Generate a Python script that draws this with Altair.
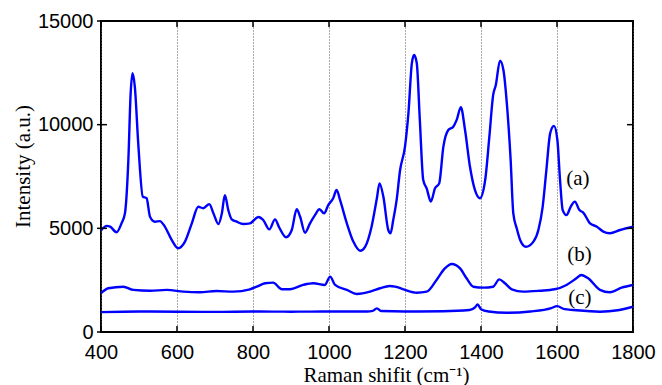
import altair as alt
import pandas as pd

# ---- data ----
a_x = [400, 415, 424, 441, 454, 463, 472, 478, 483, 489,
       498, 510, 520, 529, 542, 555, 568, 586, 603, 621,
       639, 656, 669, 685, 696, 709, 718, 726, 735, 744,
       757, 774, 792, 814, 827, 843, 858, 869, 887, 902,
       915, 924, 937, 950, 963, 975, 987, 998, 1011, 1020,
       1029, 1047, 1064, 1082, 1095, 1112, 1126, 1133, 1143, 1156,
       1162, 1169, 1178, 1187, 1200, 1209, 1218, 1224, 1231, 1239,
       1248, 1257, 1268, 1279, 1290, 1301, 1314, 1327, 1336, 1347,
       1358, 1371, 1384, 1397, 1411, 1422, 1432, 1439, 1450, 1459,
       1468, 1478, 1485, 1494, 1503, 1518, 1538, 1551, 1562, 1572,
       1582, 1592, 1601, 1608, 1615, 1625, 1636, 1647, 1659, 1669,
       1687, 1705, 1722, 1739, 1766, 1800]
a_y = [4900, 5120, 5080, 4810, 5240, 5720, 8300, 11500, 12480, 11830,
       9100, 6530, 6450, 5560, 5320, 5350, 5080, 4440, 4040, 4360,
       5240, 6040, 5970, 6170, 5720, 5210, 5720, 6600, 5880, 5430,
       5320, 5210, 5240, 5550, 5400, 4950, 5430, 5040, 4570, 4920,
       5920, 5560, 4790, 5240, 5640, 5920, 5720, 6120, 6450, 6850,
       6370, 5240, 4360, 3920, 4110, 5080, 6450, 7170, 6530, 4920,
       4760, 5400, 6370, 7800, 8940, 10550, 12960, 13360, 12960, 10230,
       7330, 6930, 6290, 6930, 7170, 8940, 9740, 9900, 10230, 10840,
       9740, 7970, 6850, 6450, 7330, 9420, 11430, 11910, 13090, 12640,
       11030, 8300, 5720, 5000, 4440, 4110, 4360, 4920, 6000, 7800,
       9580, 9940, 9260, 7330, 5880, 5640, 6040, 6290, 5880, 5760,
       5240, 5080, 4840, 4760, 4920, 5080]

b_x = [400, 419, 459, 485, 529, 573, 617, 660, 704, 748,
       792, 810, 832, 853, 876, 897, 932, 959, 989, 1003,
       1016, 1047, 1073, 1108, 1134, 1160, 1174, 1196, 1231, 1257,
       1283, 1305, 1323, 1345, 1362, 1380, 1406, 1432, 1448, 1463,
       1481, 1511, 1555, 1594, 1625, 1651, 1664, 1682, 1713, 1739,
       1770, 1800]
b_y = [1870, 2110, 2185, 2030, 1990, 2030, 1945, 1915, 1975, 1945,
       2060, 2185, 2350, 2380, 2060, 2060, 2270, 2350, 2270, 2670,
       2270, 2030, 1835, 1945, 2110, 2220, 2185, 2060, 1895, 1945,
       2510, 3070, 3280, 3070, 2590, 2185, 2140, 2185, 2540, 2350,
       2060, 1945, 1990, 2060, 2270, 2590, 2750, 2590, 2030, 1915,
       2140, 2270]

c_x = [400, 500, 600, 700, 800, 900, 1000, 1100, 1115, 1126,
       1137, 1200, 1300, 1370, 1385, 1391, 1400, 1420, 1468, 1530,
       1585, 1600, 1620, 1643, 1713, 1760, 1800]
c_y = [960, 990, 980, 970, 990, 980, 990, 990, 1020, 1140,
       1010, 990, 1000, 1060, 1200, 1330, 1100, 990, 930, 990,
       1150, 1250, 1100, 1060, 980, 1050, 1220]

x_ticks = [400, 600, 800, 1000, 1200, 1400, 1600, 1800]
y_ticks = [0, 5000, 10000, 15000]

label_text = ["(a)", "(b)", "(c)"]
label_x = [1655, 1659, 1660]
label_y = [7400, 3714, 1650]

# ---- tables ----
rows = []
for name, xs, ys in [("a", a_x, a_y), ("b", b_x, b_y), ("c", c_x, c_y)]:
    for xv, yv in zip(xs, ys):
        rows.append({"series": name, "shift": xv, "intensity": yv})
df = pd.DataFrame(rows)
xt = pd.DataFrame({"shift": x_ticks})
yt = pd.DataFrame({"intensity": y_ticks})
lab = pd.DataFrame({"t": label_text, "shift": label_x, "intensity": label_y})

W, H = 532, 311
xscale = alt.Scale(domain=[400, 1800], nice=False, zero=False)
yscale = alt.Scale(domain=[0, 15000], nice=False)

x_axis = alt.Axis(
    values=x_ticks, format="d", grid=True, gridDash=[1, 2], gridColor="#555555", gridWidth=1,
    ticks=False, domain=False,
    labelFont="Liberation Sans", labelFontSize=20, labelColor="black",
    labelBaseline="alphabetic", labelPadding=26, labelFlush=False,
    title="Raman shifit (cm⁻¹)", titleFont="Liberation Serif", titleFontSize=21,
    titleFontWeight="normal", titleColor="black", titleBaseline="alphabetic",
    titleX=285, titleY=49)
y_axis = alt.Axis(
    values=y_ticks, format="d", grid=False, ticks=False, domain=False,
    labelFont="Liberation Sans", labelFontSize=20, labelColor="black",
    labelPadding=8, labelFlush=False,
    title="Intensity (a.u.)", titleFont="Liberation Serif", titleFontSize=21,
    titleFontWeight="normal", titleColor="black",
    titleX=-68, titleY=145)

X = alt.X("shift:Q", scale=xscale, axis=x_axis)
Y = alt.Y("intensity:Q", scale=yscale, axis=y_axis)

lines = alt.Chart(df).mark_line(
    color="#0000ff", strokeWidth=2.4, clip=True, interpolate="monotone"
).encode(x=X, y=Y, detail="series:N")

tick_style = dict(color="black", strokeWidth=1.5)
bottom_ticks = alt.Chart(xt).mark_rule(**tick_style).encode(
    x=X, y=alt.value(H), y2=alt.value(H - 6))
top_ticks = alt.Chart(xt).mark_rule(**tick_style).encode(
    x=X, y=alt.value(0), y2=alt.value(6))
left_ticks = alt.Chart(yt).mark_rule(**tick_style).encode(
    y=Y, x=alt.value(-4), x2=alt.value(6))
right_ticks = alt.Chart(yt).mark_rule(**tick_style).encode(
    y=Y, x=alt.value(W), x2=alt.value(W - 6))

labels = alt.Chart(lab).mark_text(
    font="Liberation Serif", fontSize=21, color="black", align="center", baseline="middle"
).encode(x=X, y=Y, text="t:N")

chart = alt.layer(lines, bottom_ticks, top_ticks, left_ticks, right_ticks, labels).properties(
    width=W, height=H,
    autosize=alt.AutoSizeParams(type="none"),
    padding={"left": 101, "top": 21, "right": 29, "bottom": 53},
    background="white",
).configure_view(stroke="black", strokeWidth=2)

chart.save("out.html", embed_options={"renderer": "svg", "actions": False})
